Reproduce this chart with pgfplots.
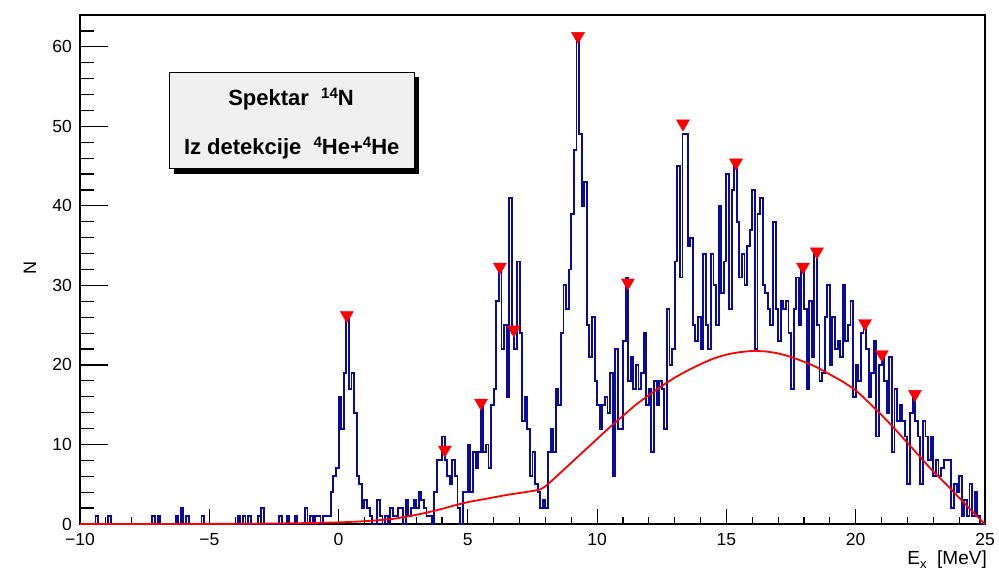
\documentclass[border=0pt]{standalone}
\usepackage{fontspec}
\setmainfont{Liberation Sans}
\usepackage{pgfplots}
\pgfplotsset{compat=1.18}
\definecolor{histblue}{rgb}{0.04,0.04,0.62}
\definecolor{boxgray}{rgb}{0.94,0.94,0.94}
\pgfplotsset{
  rootframe/.style={
    at={(0,0)}, anchor=south west, scale only axis,
    width=905bp, height=509bp,
    xmin=-10, xmax=25, ymin=0, ymax=64,
    axis line style={line width=1.3bp},
    tick align=inside, xtick pos=lower, ytick pos=left,
    tick style={line width=1.2bp, black},
    ticklabel style={font=\fontsize{17.5bp}{20bp}\selectfont, inner sep=0pt},
    xticklabel style={anchor=north, yshift=-9bp},
    yticklabel style={anchor=east, xshift=-8bp},
  }
}
\begin{document}
\begin{tikzpicture}
% x ticks and labels (short ticks)
\begin{axis}[rootframe,
  major tick length=15bp, minor tick length=7.5bp,
  ytick=\empty,
  xtick={-10,-5,0,5,10,15,20,25},
  xticklabels={−10,−5,0,5,10,15,20,25},
  minor xtick={-9,-8,...,24},
]
\end{axis}
% data, y ticks and labels (long ticks)
\begin{axis}[rootframe,
  major tick length=28bp, minor tick length=14bp,
  xtick=\empty,
  ytick={0,10,20,30,40,50,60},
  yticklabels={0,10,20,30,40,50,60},
  minor ytick={2,4,...,62},
  clip=false,
]
% histogram (bin lower edges, width 0.1 MeV)
\addplot[const plot, histblue, line width=1.9bp] coordinates {
(-10,0) (-9.4,1) (-9.3,0) (-8.9,1) (-8.8,0) (-7.2,1) (-7.1,0) (-7.0,1) (-6.9,0)
(-6.3,1) (-6.2,0) (-6.1,2) (-6.0,0) (-5.9,1) (-5.8,0) (-5.3,1) (-5.2,0)
(-3.9,1) (-3.8,0) (-3.7,1) (-3.6,0) (-3.5,1) (-3.4,0) (-3.1,1) (-3.0,2) (-2.9,0)
(-2.3,1) (-2.2,0) (-2.0,1) (-1.9,0) (-1.7,1) (-1.6,0) (-1.3,2) (-1.2,0)
(-1.1,1) (-1.0,0) (-0.9,1) (-0.8,1) (-0.7,0) (-0.6,1) (-0.5,1) (-0.4,1)
(-0.3,4) (-0.2,6) (-0.1,7)
(0.0,16) (0.1,12) (0.2,19) (0.3,26) (0.4,17) (0.5,19) (0.6,14) (0.7,6) (0.8,5) (0.9,2)
(1.0,3) (1.1,2) (1.2,1) (1.3,0) (1.4,0) (1.5,3) (1.6,1) (1.7,0) (1.8,1) (1.9,0)
(2.0,2) (2.1,1) (2.2,1) (2.3,2) (2.4,2) (2.5,0) (2.6,3) (2.7,1) (2.8,2) (2.9,3)
(3.0,2) (3.1,4) (3.2,3) (3.3,2) (3.4,1) (3.5,1) (3.6,0) (3.7,4) (3.8,8) (3.9,8)
(4.0,11) (4.1,8) (4.2,6) (4.3,5) (4.4,8) (4.5,6) (4.6,2) (4.7,0) (4.8,4) (4.9,4)
(5.0,10) (5.1,4) (5.2,9) (5.3,7) (5.4,9) (5.5,15) (5.6,9) (5.7,10) (5.8,7) (5.9,15)
(6.0,17) (6.1,28) (6.2,32) (6.3,22) (6.4,25) (6.5,16) (6.6,41) (6.7,24) (6.8,22) (6.9,33)
(7.0,24) (7.1,13) (7.2,16) (7.3,12) (7.4,6) (7.5,9) (7.6,5) (7.7,4) (7.8,2) (7.9,3)
(8.0,2) (8.1,9) (8.2,12) (8.3,9) (8.4,17) (8.5,15) (8.6,24) (8.7,30) (8.8,27) (8.9,32)
(9.0,39) (9.1,47) (9.2,61) (9.3,49) (9.4,40) (9.5,43) (9.6,25) (9.7,21) (9.8,26) (9.9,18)
(10.0,15) (10.1,12) (10.2,15) (10.3,16) (10.4,14) (10.5,19) (10.6,6) (10.7,22) (10.8,12) (10.9,12)
(11.0,23) (11.1,31) (11.2,18) (11.3,21) (11.4,17) (11.5,20) (11.6,17) (11.7,19) (11.8,24) (11.9,15)
(12.0,17) (12.1,9) (12.2,18) (12.3,15) (12.4,18) (12.5,17) (12.6,12) (12.7,27) (12.8,20) (12.9,22)
(13.0,33) (13.1,45) (13.2,31) (13.3,49) (13.4,49) (13.5,35) (13.6,36) (13.7,25) (13.8,23) (13.9,26)
(14.0,22) (14.1,34) (14.2,25) (14.3,22) (14.4,34) (14.5,30) (14.6,25) (14.7,40) (14.8,29) (14.9,33)
(15.0,44) (15.1,27) (15.2,42) (15.3,45) (15.4,38) (15.5,31) (15.6,34) (15.7,30) (15.8,35) (15.9,37)
(16.0,42) (16.1,22) (16.2,39) (16.3,41) (16.4,30) (16.5,29) (16.6,27) (16.7,25) (16.8,38) (16.9,27)
(17.0,23) (17.1,28) (17.2,27) (17.3,28) (17.4,24) (17.5,17) (17.6,27) (17.7,31) (17.8,25) (17.9,32)
(18.0,27) (18.1,17) (18.2,28) (18.3,21) (18.4,34) (18.5,25) (18.6,18) (18.7,19) (18.8,26) (18.9,30)
(19.0,20) (19.1,26) (19.2,22) (19.3,23) (19.4,21) (19.5,30) (19.6,23) (19.7,25) (19.8,28) (19.9,16)
(20.0,20) (20.1,18) (20.2,24) (20.3,25) (20.4,22) (20.5,16) (20.6,19) (20.7,23) (20.8,11) (20.9,20)
(21.0,21) (21.1,18) (21.2,14) (21.3,21) (21.4,9) (21.5,17) (21.6,13) (21.7,15) (21.8,13) (21.9,11)
(22.0,5) (22.1,14) (22.2,16) (22.3,13) (22.4,11) (22.5,5) (22.6,13) (22.7,11) (22.8,8) (22.9,11)
(23.0,6) (23.1,8) (23.2,6) (23.3,7) (23.4,8) (23.5,8) (23.6,8) (23.7,2) (23.8,5) (23.9,4)
(24.0,6) (24.1,1) (24.2,3) (24.3,1) (24.4,5) (24.5,1) (24.6,4) (24.7,1) (24.8,0) (24.9,0)
(25.0,0)
};
% background estimate
\addplot[red, line width=1.8bp, smooth, tension=0.35] coordinates {
(-10,0) (-4,0.02) (-2,0.08) (-1,0.13) (0,0.2) (1,0.35) (2,0.6) (2.5,0.85) (3,1.15)
(3.5,1.5) (4,1.9) (4.5,2.35) (5,2.75) (5.5,3.05) (6,3.35) (6.5,3.65) (7,3.9)
(7.5,4.15) (7.8,4.35) (8.0,4.75) (8.25,5.45) (8.5,6.2) (9,7.7) (9.5,9.2) (10,10.7)
(10.5,12.2) (11,13.6) (11.5,15.0) (12,16.2) (12.5,17.35) (13,18.4) (13.5,19.3)
(14,20.1) (14.5,20.8) (15,21.3) (15.5,21.6) (16,21.75) (16.5,21.7) (17,21.45)
(17.5,21.0) (18,20.4) (18.5,19.7) (19,18.8) (19.5,17.9) (20,16.8) (20.5,15.3)
(21,13.7) (21.5,12.0) (22,10.2) (22.5,8.4) (23,6.6) (23.5,5.0) (24,3.3) (24.5,1.6) (25,0)
};
% peak markers
\addplot[only marks, mark=triangle*, mark size=7.5bp,
  mark options={red, fill=red, draw=red, yshift=1.9bp, rotate=180}] coordinates {
(0.32,26) (4.11,9.1) (5.51,15) (6.24,32.1) (6.78,24.2) (9.26,61.1) (11.19,30.1)
(13.32,50.1) (15.37,45.2) (17.96,32.1) (18.50,34) (20.36,25) (21.01,21.1) (22.29,16.1)
};
\end{axis}
% text box with shadow
\fill[black] (94bp,350bp) rectangle (339.3bp,446.7bp);
\filldraw[fill=boxgray, draw=black, line width=0.9bp] (89bp,355.7bp) rectangle (334.3bp,451.7bp);
\node[anchor=base, inner sep=0pt, font=\bfseries\fontsize{22bp}{24bp}\selectfont] at (211bp,418bp)
  {Spektar\ \ \raisebox{7bp}{\fontsize{15bp}{15bp}\selectfont 14}N};
\node[anchor=base, inner sep=0pt, font=\bfseries\fontsize{22bp}{24bp}\selectfont] at (211.7bp,369bp)
  {Iz detekcije\ \ \raisebox{7bp}{\fontsize{15bp}{15bp}\selectfont 4}He+\raisebox{7bp}{\fontsize{15bp}{15bp}\selectfont 4}He};
% axis titles
\node[rotate=90, inner sep=0pt, font=\fontsize{18bp}{20bp}\selectfont] at (-50bp,256bp) {N};
\node[anchor=base east, inner sep=0pt, font=\fontsize{19bp}{20bp}\selectfont] at (907bp,-40bp)
  {E\raisebox{-4bp}{\fontsize{13bp}{13bp}\selectfont x}\ \ [MeV]};
\pgfresetboundingbox
\path[use as bounding box] (-80bp,-46bp) rectangle (919bp,524bp);
\end{tikzpicture}
\end{document}
